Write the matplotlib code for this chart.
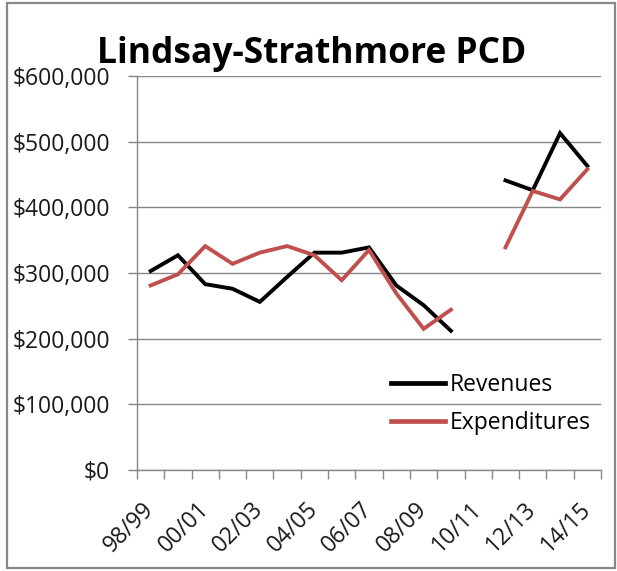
import numpy as np
import matplotlib
matplotlib.use("Agg")
import matplotlib.pyplot as plt
from matplotlib.patches import Rectangle
from matplotlib.ticker import FuncFormatter, FixedLocator

plt.rcParams['font.family'] = ['Open Sans', 'DejaVu Sans']

years = ["98/99", "99/00", "00/01", "01/02", "02/03", "03/04", "04/05", "05/06",
         "06/07", "07/08", "08/09", "09/10", "10/11", "11/12", "12/13", "13/14", "14/15"]
revenues = [303000, 327000, 283000, 276000, 256000, 294000, 331000, 331000,
            339000, 281000, 251000, 212000, np.nan, 441000, 426000, 513000, 463000]
expenditures = [281000, 298000, 341000, 314000, 331000, 341000, 327000, 289000,
                335000, 269000, 215000, 244000, np.nan, 339000, 425000, 412000, 458000]
title = "Lindsay-Strathmore PCD"

W, H = 617, 571
fig = plt.figure(figsize=(W / 100, H / 100), dpi=100)
ax = fig.add_axes([137 / W, 1 - 470 / H, (601 - 137) / W, (470 - 76) / H])

x = np.arange(len(years))
ax.plot(x, revenues, color='black', lw=2.8, label='Revenues', solid_joinstyle='miter')
ax.plot(x, expenditures, color='#C0504D', lw=2.8, label='Expenditures', solid_joinstyle='miter')

ax.set_xlim(-0.5, len(years) - 0.5)
ax.set_ylim(0, 600000)
ax.set_yticks(np.arange(0, 600001, 100000))
ax.yaxis.set_major_formatter(FuncFormatter(lambda v, p: "${:,.0f}".format(v)))
ax.grid(axis='y', color='#878787', lw=1.0)
ax.set_axisbelow(True)

ax.xaxis.set_major_locator(FixedLocator(np.arange(-0.5, len(years), 1)))
ax.xaxis.set_major_formatter(FuncFormatter(lambda v, p: ""))
ax.xaxis.set_minor_locator(FixedLocator(x[::2]))
ax.set_xticklabels([years[i] for i in range(0, len(years), 2)], minor=True)
ax.tick_params(axis='x', which='major', length=6.5, width=1, color='#878787', direction='out')
ax.tick_params(axis='x', which='minor', length=0, pad=26, labelsize=16.5, labelcolor='#1a1a1a')
for lab in ax.get_xticklabels(minor=True):
    lab.set_rotation(45)
    lab.set_rotation_mode('anchor')
    lab.set_ha('right')
    lab.set_va('center')
ax.tick_params(axis='y', length=6.5, width=1, color='#878787', labelsize=16.5,
               labelcolor='#1a1a1a', pad=13)

for s in ['top', 'right']:
    ax.spines[s].set_visible(False)
for s in ['left', 'bottom']:
    ax.spines[s].set_color('#878787')
    ax.spines[s].set_linewidth(1.0)

leg = ax.legend(loc='center left', bbox_to_anchor=(391 / W, 1 - 404 / H),
                bbox_transform=fig.transFigure, frameon=False, fontsize=16.5,
                handlelength=2.35, handletextpad=0.22, labelspacing=0.62,
                borderpad=0, borderaxespad=0)
for line in leg.get_lines():
    line.set_linewidth(3.4)

fig.text(312 / W, 1 - 63 / H, title, ha='center', va='baseline',
         fontsize=25.5, fontweight='bold', color='black')

fig.patches.append(Rectangle((7 / W, 3 / H), (615 - 7) / W, (568 - 3) / H,
                             transform=fig.transFigure, fill=False,
                             edgecolor='#888888', lw=1.6))

fig.savefig('out.png', dpi=100)
